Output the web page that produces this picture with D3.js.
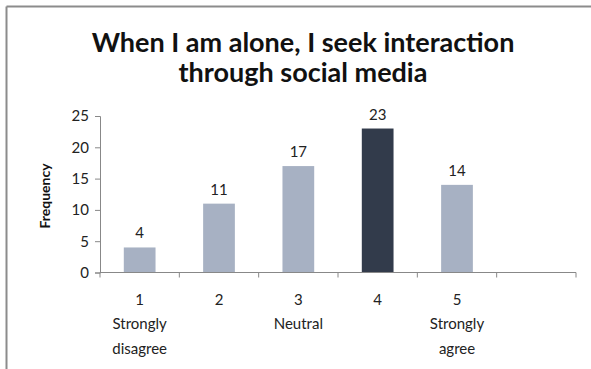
<!DOCTYPE html>
<html>
<head>
<meta charset="utf-8">
<script src="https://cdn.jsdelivr.net/npm/d3@7"></script>
<style>
  html, body { margin: 0; padding: 0; background: #fff; }
  svg { display: block; }
</style>
</head>
<body>
<svg id="chart" width="591" height="369"></svg>
<script>
// Likert responses and their counts
const categories = ["1", "2", "3", "4", "5", ""];
const subLabels = [["Strongly", "disagree"], [], ["Neutral"], [], ["Strongly", "agree"], []];
const frequency = [4, 11, 17, 23, 14, null];
const highlight = "4";
const yTicks = [0, 5, 10, 15, 20, 25];
const titleLines = ["When I am alone, I seek interaction", "through social media"];

const svg = d3.select("#chart");
const font = "Lato, 'Open Sans', 'DejaVu Sans', sans-serif";

// frame: top and left border lines
svg.append("line").attr("x1", 6.5).attr("y1", 6.5).attr("x2", 591).attr("y2", 6.5)
  .attr("stroke", "#8c8c8c").attr("stroke-width", 2);
svg.append("line").attr("x1", 6.5).attr("y1", 6.5).attr("x2", 6.5).attr("y2", 369)
  .attr("stroke", "#8c8c8c").attr("stroke-width", 2);

const x = d3.scaleBand().domain(categories).range([100, 576]).paddingInner(0.6).paddingOuter(0.3);
const y = d3.scaleLinear().domain([0, 25]).range([272.5, 116]);

// title
svg.append("g").selectAll("text").data(titleLines).join("text")
  .attr("x", 303).attr("y", (d, i) => 52 + i * 30)
  .attr("text-anchor", "middle")
  .attr("font-family", font).attr("font-weight", 700).attr("font-size", 27)
  .attr("fill", "#111")
  .text(d => d);

const shown = categories.filter((c, i) => frequency[i] != null);
const val = d => frequency[categories.indexOf(d)];

// bars
svg.append("g").selectAll("rect").data(shown).join("rect")
  .attr("x", d => x(d))
  .attr("width", x.bandwidth())
  .attr("y", d => y(val(d)))
  .attr("height", d => y(0) - y(val(d)))
  .attr("fill", d => d === highlight ? "#323b4b" : "#a7b1c3");

// value labels
svg.append("g").selectAll("text").data(shown).join("text")
  .attr("x", d => x(d) + x.bandwidth() / 2)
  .attr("y", d => y(val(d)) - 9)
  .attr("text-anchor", "middle")
  .attr("font-family", font).attr("font-size", 15).attr("fill", "#222")
  .text(d => val(d));

// y axis
const yAxis = svg.append("g").attr("transform", "translate(100,0)")
  .call(d3.axisLeft(y).tickValues(yTicks).tickSize(5).tickPadding(6));
yAxis.select(".domain").attr("stroke", "#888");
yAxis.selectAll(".tick line").attr("stroke", "#888");
yAxis.selectAll("text").attr("font-family", font).attr("font-size", 15).attr("fill", "#222");

// x axis: boundary ticks between categories
const bounds = d3.range(categories.length + 1).map(i => 100 + i * (476 / categories.length));
const xg = svg.append("g");
xg.append("line").attr("x1", 100).attr("x2", 576).attr("y1", y(0)).attr("y2", y(0))
  .attr("stroke", "#888");
xg.selectAll("line.t").data(bounds).join("line").attr("class", "t")
  .attr("x1", d => d).attr("x2", d => d).attr("y1", y(0)).attr("y2", y(0) + 5)
  .attr("stroke", "#888");

// category labels
const lab = svg.append("g").selectAll("g").data(categories.filter(c => c !== "")).join("g")
  .attr("transform", d => `translate(${x(d) + x.bandwidth() / 2},0)`);
lab.append("text").attr("y", 305).attr("text-anchor", "middle")
  .attr("font-family", font).attr("font-size", 15).attr("fill", "#222").text(d => d);
lab.each(function (d) {
  const lines = subLabels[categories.indexOf(d)];
  d3.select(this).selectAll("text.s").data(lines).join("text").attr("class", "s")
    .attr("y", (t, i) => 329 + i * 25).attr("text-anchor", "middle")
    .attr("font-family", font).attr("font-size", 15).attr("fill", "#222").text(t => t);
});

// y axis title
svg.append("text")
  .attr("transform", "translate(50,196) rotate(-90)")
  .attr("text-anchor", "middle")
  .attr("font-family", font).attr("font-weight", 700).attr("font-size", 14).attr("fill", "#111")
  .text("Frequency");
</script>
</body>
</html>
